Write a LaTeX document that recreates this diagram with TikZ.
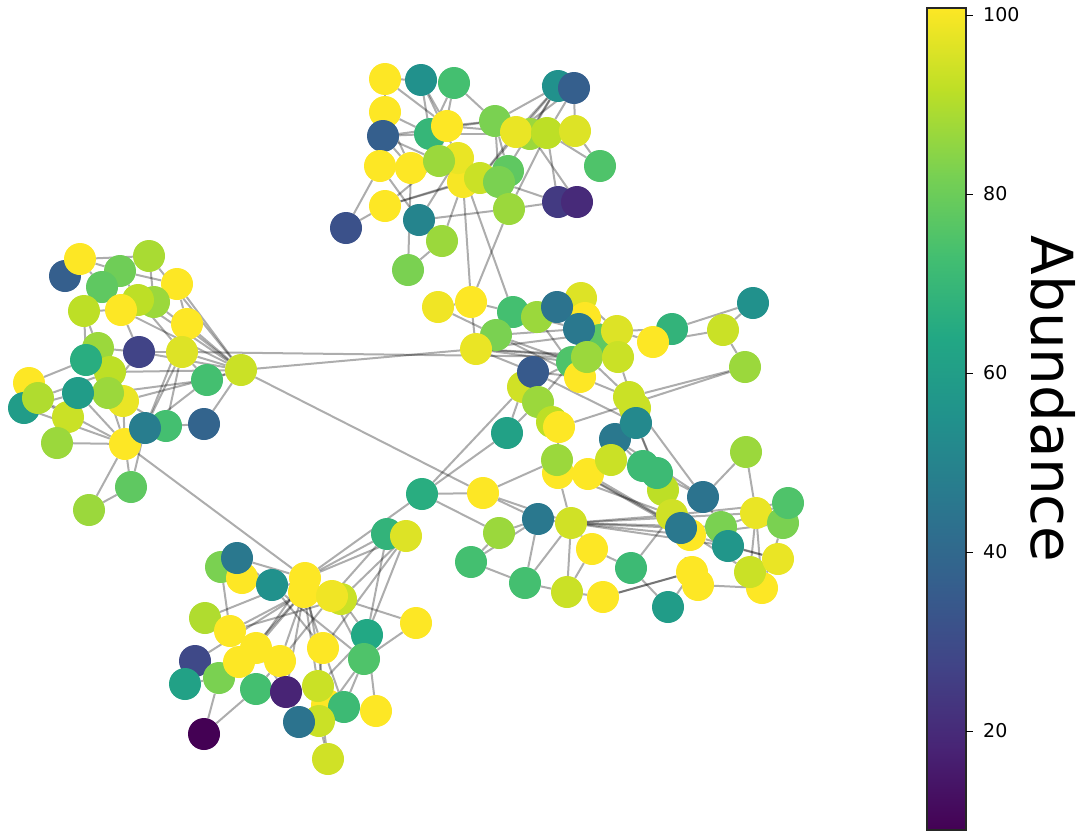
\documentclass[tikz,border=0pt]{standalone}
\usepackage{fontspec}
\setmainfont{DejaVu Sans}
\usepackage{tikz}
\usetikzlibrary{backgrounds}
% viridis stops
\definecolor{vir0}{RGB}{68,1,84}
\definecolor{vir1}{RGB}{72,36,117}
\definecolor{vir2}{RGB}{65,68,135}
\definecolor{vir3}{RGB}{53,95,141}
\definecolor{vir4}{RGB}{42,120,142}
\definecolor{vir5}{RGB}{33,145,140}
\definecolor{vir6}{RGB}{34,168,132}
\definecolor{vir7}{RGB}{68,191,112}
\definecolor{vir8}{RGB}{122,209,81}
\definecolor{vir9}{RGB}{189,223,38}
\definecolor{vir10}{RGB}{253,231,37}

\begin{document}
\begin{tikzpicture}[x=1pt, y=-1pt,
    dot/.style={circle, minimum size=32pt, inner sep=0pt},
    link/.style={draw=black, line width=2pt, opacity=0.32},
    ticklabel/.style={anchor=west, inner sep=0pt, font=\fontsize{19}{19}\selectfont}
]
    \useasboundingbox (0,0) rectangle (1086,838);

    % species nodes: name/x/y/abundance level
    \foreach \n/\x/\y/\v in {
        t1/385/79/100, t2/421/80/50, t3/454/83/70, t4/558/86/50, t5/574/88/30,
        t6/385/112/100, t7/383/136/30, t8/430/134/66, t9/447/126/100, t10/495/121/80,
        t11/530/134/85, t12/516/132/97, t13/547/133/90, t14/575/131/95, t15/600/166/72,
        t16/380/166/100, t17/411/168/100, t18/463/182/99, t19/458/158/97, t20/439/161/85,
        t21/508/171/75, t22/480/178/92, t23/499/182/80, t24/385/206/100, t25/346/228/25,
        t26/419/220/45, t27/442/241/85, t28/509/209/85, t29/558/202/17, t30/577/202/12,
        t31/408/270/80,
        l1/65/276/30, l2/80/259/100, l3/149/256/87, l4/120/271/78, l5/102/287/75,
        l6/177/284/100, l8/154/302/85, l9/138/300/90, l10/121/310/100, l7/84/311/90,
        l11/187/324/100, l12/98/348/85, l13/139/352/20, l14/182/352/95, l15/241/370/92,
        l17/110/372/90, l16/86/360/62, l18/207/380/70, l19/29/383/100, l20/24/408/55,
        l21/38/398/88, l22/123/401/97, l24/108/393/85, l25/68/417/92, l23/78/393/55,
        l26/57/443/85, l27/166/426/70, l29/204/424/32, l30/125/444/100, l28/145/428/42,
        l31/131/487/75, l32/89/510/85,
        b1/387/534/65, b2/406/536/95, b3/221/567/80, b4/242/578/100, b5/237/558/40,
        b6/272/585/50, b7/304/592/100, b8/305/578/100, b9/341/599/92, b10/332/596/98,
        b11/416/623/100, b12/205/618/88, b13/230/631/100, b14/367/635/60, b15/256/648/100,
        b16/323/648/100, b17/195/661/22, b18/219/678/80, b22/185/684/57, b19/239/662/100,
        b20/280/661/100, b21/364/659/72, b23/256/689/70, b24/286/692/10, b25/327/705/100,
        b26/318/686/92, b27/344/707/68, b28/376/711/100, b29/319/721/92, b30/299/722/38,
        b31/204/734/0, b32/328/759/93,
        r1/438/307/98, r2/471/302/100, r3/513/312/70, r4/537/317/85, r5/581/298/95,
        r6/585/318/100, r7/557/307/38, r8/496/335/80, r9/476/349/97, r10/600/340/75,
        r11/579/329/40, r12/617/331/95, r13/672/329/65, r14/653/342/100, r15/723/330/92,
        r16/753/303/50, r17/572/362/72, r20/580/377/100, r19/587/357/85, r18/618/357/92,
        r21/523/387/93, r22/533/372/28, r24/538/402/85, r23/745/367/85, r25/635/408/92,
        r26/629/397/92, r28/615/439/40, r27/636/423/47, r29/552/422/90, r30/559/427/100,
        r31/507/433/57, r32/746/452/85, r33/558/473/100, r34/557/460/85, r35/588/474/100,
        r36/611/460/92, r41/663/490/90, r37/643/466/68, r38/657/473/68, r39/422/494/62,
        r40/483/493/100, r42/703/497/38, r43/499/533/85, r44/538/519/40, r45/571/523/93,
        r46/672/515/93, r47/690/535/100, r48/681/528/40, r49/721/527/80, r50/728/546/52,
        r51/756/513/97, r53/783/523/80, r52/788/503/72, r54/592/549/100, r55/471/562/70,
        r56/631/568/68, r58/698/585/100, r57/692/572/100, r61/762/588/100, r59/750/572/92,
        r60/778/559/97, r62/525/583/70, r63/567/592/92, r64/603/597/100, r65/668/607/55} {
        \pgfmathtruncatemacro\vlo{min(9,int(\v/10))}
        \pgfmathtruncatemacro\vhi{\vlo+1}
        \pgfmathtruncatemacro\vpc{(\v-10*\vlo)*10}
        \colorlet{dotcol}{vir\vhi!\vpc!vir\vlo}
        \node[dot, fill=dotcol] (\n) at (\x,\y) {};
    }

    % interactions
    \begin{scope}[on background layer]
        \foreach \a/\b in {
            t1/t6, t1/t2, t1/t9, t2/t8, t2/t9, t2/t19, t3/t8, t3/t20, t3/t10, t4/t5,
            t4/t10, t4/t12, t4/t22, t4/t23, t4/t11, t5/t13, t5/t14, t5/t12, t6/t7, t6/t17,
            t6/t8, t7/t8, t7/t17, t7/t20, t7/t10, t9/t10, t9/t12, t8/t11, t10/t23, t11/t13,
            t12/t22, t13/t15, t13/t28, t13/t29, t14/t15, t14/t11, t16/t17, t16/t25, t16/t26, t16/t7,
            t17/t19, t17/t31, t17/t22, t18/t27, t18/t24, t19/t23, t20/t22, t21/t10, t21/t18, t22/t28,
            t23/t29, t24/t25, t24/t20, t26/t28, t26/t27, t27/t31, t28/t29, t29/t30, t11/t30, t26/t19,
            t24/t22,
            l1/l2, l2/l3, l2/l5, l2/l4, l3/l4, l3/l8, l3/l15, l4/l6, l4/l9, l5/l7,
            l5/l10, l6/l15, l6/l11, l7/l10, l7/l12, l7/l16, l8/l15, l9/l15, l9/l14, l10/l15,
            l10/l13, l11/l15, l11/l14, l12/l13, l12/l16, l13/l14, l13/l15, l14/l15, l14/l27, l14/l28,
            l14/l18, l15/l18, l15/l17, l16/l19, l16/l24, l17/l22, l17/l21, l18/l24, l18/l28, l19/l21,
            l20/l23, l20/l30, l21/l30, l21/l25, l22/l30, l22/l27, l23/l30, l23/l25, l24/l30, l25/l26,
            l26/l30, l27/l29, l27/l30, l28/l30, l28/l11, l30/l31, l30/l32, l31/l32, l28/l31, l29/l15,
            l22/l15, l24/l13,
            b1/b2, b1/b10, b1/b14, b2/b14, b2/b9, b2/b16, b2/b8, b3/b13, b3/b5, b4/b5,
            b4/b6, b5/b6, b5/b8, b6/b16, b6/b21, b7/b17, b7/b19, b7/b15, b7/b20, b7/b24,
            b7/b16, b7/b26, b7/b13, b8/b10, b8/b12, b8/b15, b8/b1, b8/b25, b9/b11, b9/b14,
            b9/b13, b10/b21, b10/b20, b11/b21, b12/b13, b13/b19, b14/b26, b14/b28, b15/b19, b16/b26,
            b16/b27, b17/b22, b17/b18, b18/b31, b19/b20, b20/b23, b20/b30, b21/b27, b21/b29, b22/b18,
            b23/b31, b24/b26, b25/b27, b25/b29, b26/b32, b27/b28, b29/b32, b30/b29, b24/b30, b15/b24,
            r1/r8, r1/r2, r2/r3, r2/r9, r3/r7, r3/r4, r3/r8, r3/r11, r4/r7, r4/r20,
            r5/r7, r5/r11, r5/r12, r6/r11, r7/r12, r8/r9, r8/r11, r8/r17, r8/r20, r9/r17,
            r9/r18, r9/r22, r9/r19, r9/r12, r10/r12, r11/r19, r12/r14, r13/r14, r13/r16, r14/r15,
            r15/r16, r15/r23, r12/r13, r17/r21, r17/r24, r18/r25, r19/r26, r20/r22, r20/r26, r21/r31,
            r21/r24, r22/r27, r23/r26, r24/r29, r25/r27, r26/r28, r27/r28, r27/r38, r27/r41, r28/r37,
            r28/r42, r26/r42, r29/r30, r30/r23, r30/r34, r31/r24, r31/r39, r32/r42, r32/r51, r33/r45,
            r33/r35, r33/r46, r34/r47, r34/r48, r35/r48, r35/r36, r36/r37, r36/r38, r37/r41, r38/r42,
            r39/r40, r39/r43, r40/r44, r40/r45, r40/r34, r41/r46, r42/r49, r43/r44, r43/r55, r44/r45,
            r44/r62, r45/r46, r45/r47, r45/r48, r45/r49, r45/r50, r45/r51, r45/r54, r45/r62, r46/r52,
            r47/r53, r48/r59, r49/r50, r49/r52, r50/r60, r51/r59, r51/r61, r53/r61, r54/r56, r54/r63,
            r55/r62, r55/r44, r56/r65, r56/r46, r57/r58, r57/r64, r57/r65, r58/r61, r59/r60, r62/r63,
            r63/r64, r64/r57, r63/r45, r47/r60,
            l15/r9, l14/r19, l15/r40, l30/b8, b8/r39, r39/r21, t18/r2, t19/r3, t28/r2} {
            \draw[link] (\a) -- (\b);
        }
    \end{scope}

    % colour bar
    \foreach \k [evaluate=\k as \kk using int(\k+1)] in {0,...,9} {
        \shade[bottom color=vir\k, top color=vir\kk]
            (927,{830-82.2*\k+0.5}) rectangle (966,{830-82.2*(\k+1)-0.5});
    }
    \draw[line width=1.2pt, black!85] (927,8) rectangle (966,830);
    \foreach \t in {20,40,60,80,100} {
        \draw[line width=1pt] (966,{15+(100-\t)*8.95}) -- ++(7,0);
        \node[ticklabel] (tick\t) at (983,{15+(100-\t)*8.95}) {\t};
    }
    \node[rotate=-90, inner sep=0pt, font=\fontsize{58}{58}\selectfont] (cbarlabel) at (1053,399) {Abundance};
\end{tikzpicture}
\end{document}
